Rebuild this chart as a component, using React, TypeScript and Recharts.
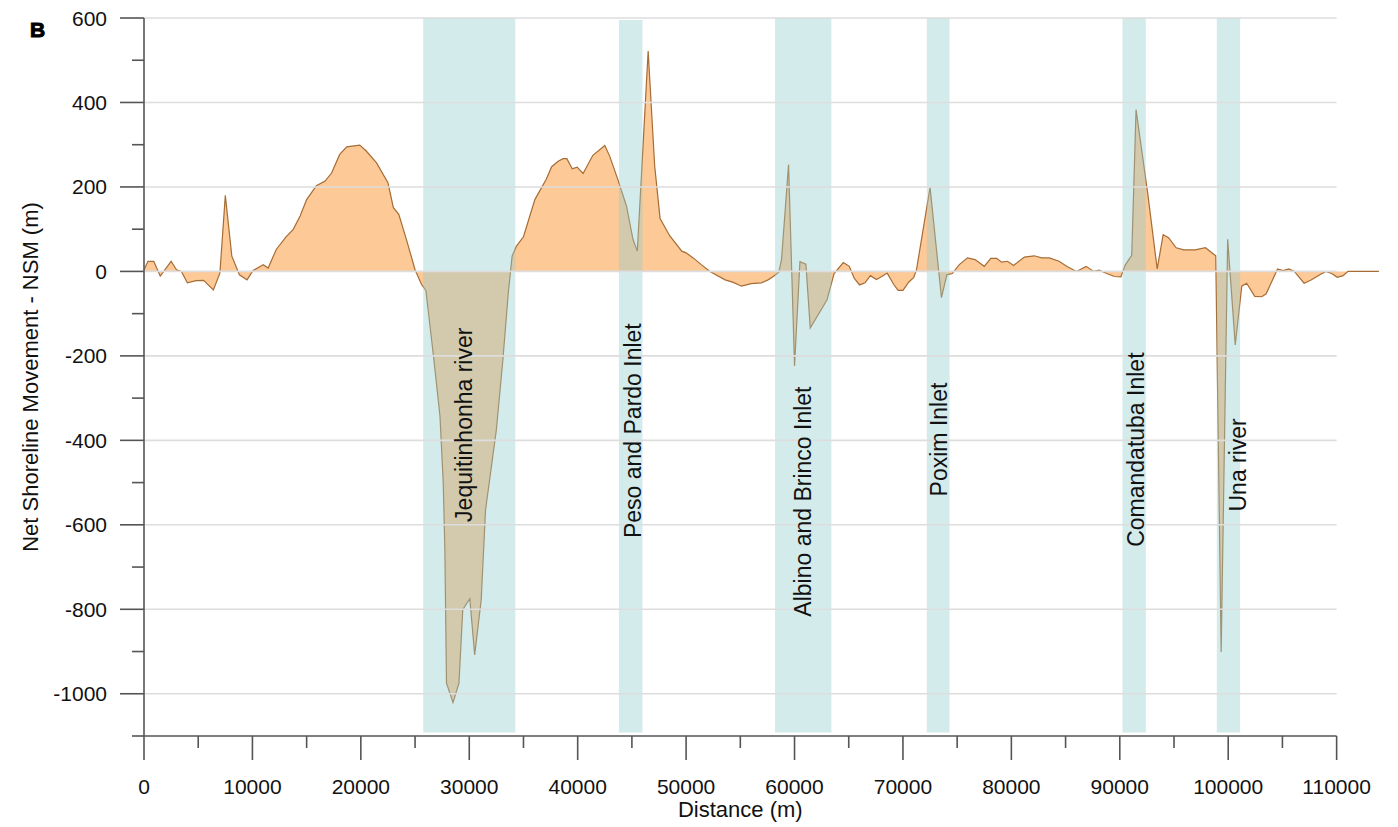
import React from 'react';
import { ComposedChart, Area, XAxis, YAxis, ReferenceArea, ReferenceLine, ReferenceDot } from 'recharts';

const distance = [
  0, 370, 900, 1500, 2500, 3000, 3450, 4000, 4800, 5500, 6400, 7000, 7500, 8100, 8800, 9500,
  10050, 11000, 11450, 12200, 13100, 13750, 14400, 15000, 15900, 16700, 17300, 18050, 18700, 19900,
  20500, 21450, 22500, 23000, 23500, 24200, 25000, 25600, 26000, 26700, 27300, 27600, 27750, 27900,
  28500, 29050, 29400, 30050, 30500, 31100, 31500, 32500, 33100, 33600, 33950, 34350, 35000, 36050,
  37100, 37600, 38200, 38650, 39000, 39500, 39950, 40500, 41400, 42500, 42950, 43700, 44500, 45100,
  45500, 46500, 47100, 47600, 48500, 49600, 50000, 50650, 51400, 52200, 53600, 54350, 55100, 56000,
  56950, 57550, 58050, 58550, 58800, 59450, 60000, 60500, 61050, 61450, 63000, 63650, 64500, 65050,
  65500, 66000, 66500, 67000, 67550, 68050, 68550, 69150, 69550, 70000, 70550, 71000, 71250, 72500,
  73550, 74050, 74550, 75200, 75950, 76650, 77500, 78100, 78650, 79100, 79650, 80200, 81200, 82100,
  82800, 83500, 84400, 85100, 86000, 86900, 87600, 88100, 88800, 89500, 90100, 90500, 91100, 91500,
  92600, 93450, 94000, 94500, 95200, 95900, 96950, 97900, 98850, 99350, 99950, 100650, 101250, 101700,
  102450, 103100, 103500, 104000, 104550, 105050, 105600, 106100, 107000, 107600, 108450, 109000,
  109550, 110050, 110600, 111050, 113900,
];

const nsm = [
  4, 24, 24, -11, 24, 4, 0, -27, -22, -21, -44, -4, 180, 36, -8, -20,
  2, 16, 8, 52, 82, 99, 131, 170, 203, 214, 233, 277, 295, 299,
  285, 257, 210, 151, 135, 76, 4, -31, -45, -201, -343, -501, -659, -975,
  -1021, -975, -801, -775, -908, -778, -565, -375, -209, -51, 36, 60, 82, 170,
  218, 248, 261, 267, 267, 243, 247, 232, 275, 298, 273, 218, 155, 76,
  48, 522, 250, 125, 84, 48, 44, 32, 16, 0, -20, -26, -35, -29,
  -27, -20, -12, -2, 28, 253, -224, 23, 17, -134, -67, -5, 21, 12,
  -16, -32, -27, -10, -19, -12, -4, -31, -45, -45, -25, -14, 4, 199,
  -62, -8, -5, 16, 32, 28, 12, 31, 31, 22, 24, 14, 34, 37,
  32, 32, 24, 12, 0, 12, 0, 3, -5, -12, -13, 15, 38, 383,
  180, 6, 87, 80, 56, 51, 51, 56, 37, -901, 76, -174, -35, -28,
  -59, -60, -53, -25, 6, 2, 6, 0, -28, -21, -8, 0,
  -5, -14, -10, 0, 0,
];

const xTicks = [
  0, 5000, 10000, 15000, 20000, 25000, 30000, 35000, 40000, 45000, 50000, 55000,
  60000, 65000, 70000, 75000, 80000, 85000, 90000, 95000, 100000, 105000, 110000,
];
const yTicks = [
  -1100, -1000, -900, -800, -700, -600, -500, -400, -300, -200, -100,
  0, 100, 200, 300, 400, 500, 600,
];
const gridValues = [600, 400, 200, 0, -200, -400, -600, -800, -1000];

const bandLabels = [
  'Jequitinhonha river',
  'Peso and Pardo Inlet',
  'Albino and Brinco Inlet',
  'Poxim Inlet',
  'Comandatuba Inlet',
  'Una river',
];
const bandStart = [25750, 43800, 58200, 72200, 90250, 98950];
const bandEnd = [34250, 45980, 63400, 74300, 92400, 101100];
const bandTop = [600, 595, 600, 600, 600, 600];
const bandBottom = [-1092, -1092, -1092, -1092, -1092, -1092];
const labelX = [29500, 45100, 60800, 73300, 91500, 100900];
const labelY = [-363, -377, -545, -398, -422, -458];

const data = distance.map((d, i) => ({ distance: d, nsm: nsm[i] }));

const FONT = '"Liberation Sans", Arial, sans-serif';
const AXIS = '#555555';
const TEXT = '#111111';

const YTick = (props: any) => {
  const { x, y, payload } = props;
  const major = payload.value % 200 === 0;
  return (
    <g>
      <line x1={x - (major ? 24 : 12)} x2={x} y1={y} y2={y} stroke={AXIS} strokeWidth={1.6} />
      {major && (
        <text x={x - 37} y={y} textAnchor="end" dominantBaseline="central" fontSize={21} fontFamily={FONT} fill={TEXT}>
          {payload.value}
        </text>
      )}
    </g>
  );
};

const XTick = (props: any) => {
  const { x, y, payload } = props;
  const major = payload.value % 10000 === 0;
  return (
    <g>
      <line x1={x} x2={x} y1={y} y2={y + (major ? 24 : 12)} stroke={AXIS} strokeWidth={1.6} />
      {major && (
        <text x={x} y={y + 50} textAnchor="middle" dominantBaseline="central" fontSize={21} fontFamily={FONT} fill={TEXT}>
          {payload.value}
        </text>
      )}
    </g>
  );
};

const YTitle = (props: any) => {
  const vb = props.viewBox || {};
  const cy = vb.y + vb.height / 2;
  const bx = 38;
  return (
    <g>
      <text
        x={bx}
        y={cy}
        transform={`rotate(-90 ${bx} ${cy})`}
        textAnchor="middle"
        fontSize={22}
        fontFamily={FONT}
        fill={TEXT}
      >
        Net Shoreline Movement - NSM (m)
      </text>
      <text
        x={30}
        y={37}
        fontSize={21}
        fontWeight="bold"
        fontFamily={FONT}
        fill="#000"
        stroke="#000"
        strokeWidth={1}
      >
        B
      </text>
    </g>
  );
};

const makeRotLabel = (text: string) => (props: any) => {
  const vb = props.viewBox || {};
  const cx = vb.x + (vb.width || 0) / 2;
  const cy = vb.y + (vb.height || 0) / 2;
  return (
    <text
      x={cx}
      y={cy}
      transform={`rotate(-90 ${cx} ${cy})`}
      textAnchor="middle"
      dominantBaseline="central"
      fontSize={23}
      fontFamily={FONT}
      fill={TEXT}
    >
      {text}
    </text>
  );
};

const xTitle = (props: any) => {
  const vb = props.viewBox || {};
  const cx = vb.x + (vb.width || 0) / 2;
  const cy = vb.y + (vb.height || 0) / 2;
  return (
    <text x={cx} y={cy + 81} textAnchor="middle" fontSize={22} fontFamily={FONT} fill={TEXT}>
      Distance (m)
    </text>
  );
};

export default function App() {
  return (
    <div style={{ position: 'absolute', left: 0, top: 0, background: '#fff' }}>
      <ComposedChart width={1398} height={827} data={data} margin={{ top: 18, right: 18, bottom: 0, left: 0 }}>
        <XAxis
          type="number"
          dataKey="distance"
          domain={[0, 114000]}
          ticks={xTicks}
          interval={0}
          tick={<XTick />}
          tickSize={0}
          tickMargin={0}
          tickLine={false}
          axisLine={false}
          height={91}
          allowDataOverflow
        />
        <YAxis
          type="number"
          domain={[-1100, 600]}
          ticks={yTicks}
          interval={0}
          tick={<YTick />}
          tickSize={0}
          tickMargin={0}
          tickLine={false}
          axisLine={{ stroke: AXIS, strokeWidth: 1.6 }}
          width={144}
          allowDataOverflow
          label={{ content: YTitle }}
        />
        {gridValues.map((v) => (
          <ReferenceLine
            key={'g' + v}
            segment={[{ x: 0, y: v }, { x: 110000, y: v }]}
            stroke="#dddddd"
            strokeWidth={1.6}
          />
        ))}
        <Area
          type="linear"
          dataKey="nsm"
          baseValue={0}
          stroke="#a66c35"
          strokeWidth={1.2}
          fill="#fdc996"
          fillOpacity={1}
          isAnimationActive={false}
          dot={false}
          activeDot={false}
        />
        {bandLabels.map((name, i) => (
          <ReferenceArea
            key={'b' + name}
            x1={bandStart[i]}
            x2={bandEnd[i]}
            y1={bandBottom[i]}
            y2={bandTop[i]}
            fill="rgb(148,205,208)"
            fillOpacity={0.4}
            stroke="none"
          />
        ))}
        <ReferenceLine
          segment={[{ x: 0, y: -1100 }, { x: 110000, y: -1100 }]}
          stroke={AXIS}
          strokeWidth={1.6}
        />
        {bandLabels.map((name, i) => (
          <ReferenceDot
            key={'l' + name}
            x={labelX[i]}
            y={labelY[i]}
            r={1}
            fill="none"
            stroke="none"
            label={makeRotLabel(name)}
          />
        ))}
        <ReferenceDot x={55000} y={-1100} r={1} fill="none" stroke="none" label={xTitle} />
      </ComposedChart>
    </div>
  );
}
